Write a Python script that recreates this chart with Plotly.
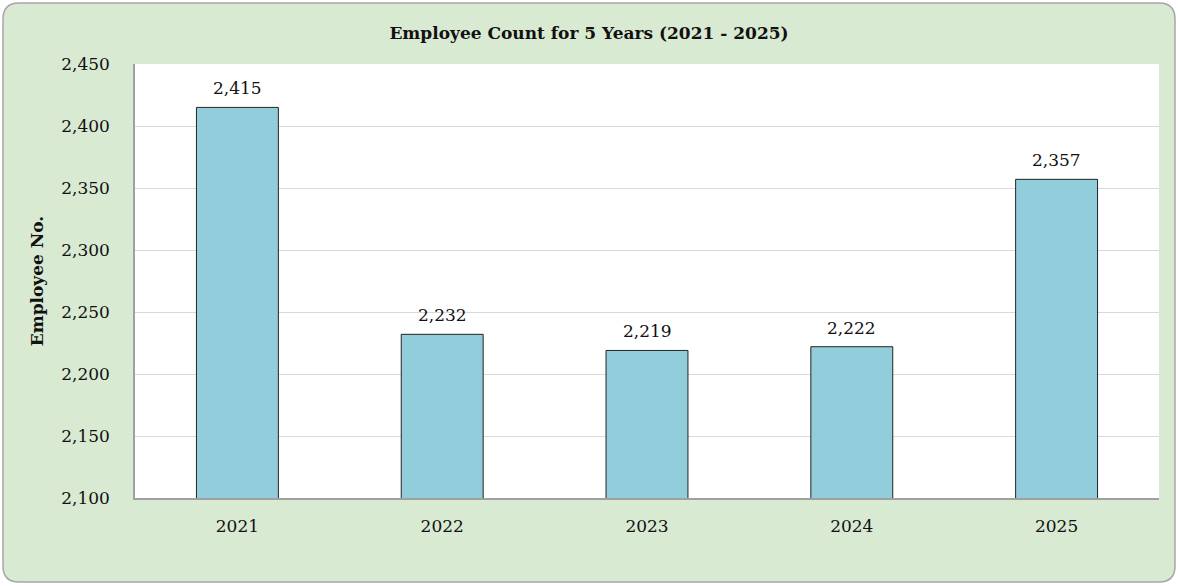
import plotly.graph_objects as go

years = ["2021", "2022", "2023", "2024", "2025"]
employees = [2415, 2232, 2219, 2222, 2357]
y_ticks = [2100, 2150, 2200, 2250, 2300, 2350, 2400, 2450]

W, H = 1178, 586
L, R, T, B = 135, 19, 64, 88
pw, ph = W - L - R, H - T - B

def px_to_paper_x(p):
    return (p - L) / pw

def px_to_paper_y(p):
    return 1 - (p - T) / ph

# rounded rectangle path (page pixels -> paper)
x0, x1, y0, y1, r = 3, 1175, 3, 582, 16
def P(x, y):
    return f"{px_to_paper_x(x):.5f},{px_to_paper_y(y):.5f}"
path = (f"M {P(x0+r, y0)} L {P(x1-r, y0)} Q {P(x1, y0)} {P(x1, y0+r)} "
        f"L {P(x1, y1-r)} Q {P(x1, y1)} {P(x1-r, y1)} "
        f"L {P(x0+r, y1)} Q {P(x0, y1)} {P(x0, y1-r)} "
        f"L {P(x0, y0+r)} Q {P(x0, y0)} {P(x0+r, y0)} Z")

font_family = "DejaVu Serif"
txt = "#111111"

fig = go.Figure(go.Bar(
    x=years, y=employees,
    marker=dict(color="#92cddc", line=dict(color="#222222", width=1)),
    cliponaxis=False,
))

# data labels: category axes place annotations by category index
for i, v in enumerate(employees):
    fig.add_annotation(x=i, y=v, text=f"{v:,}", showarrow=False,
                       yanchor="bottom", yshift=7,
                       font=dict(family=font_family, size=17, color=txt))

fig.update_layout(
    width=W, height=H,
    margin=dict(l=L, r=R, t=T, b=B),
    paper_bgcolor="white",
    plot_bgcolor="white",
    bargap=0.6,
    showlegend=False,
    font=dict(family=font_family, size=17, color=txt),
    title=dict(text="<b>Employee Count for 5 Years (2021 - 2025)</b>",
               x=0.5, xanchor="center", y=1 - 33 / H, yanchor="middle",
               font=dict(family=font_family, size=17, color=txt)),
    shapes=[
        dict(type="path", path=path, xref="paper", yref="paper",
             fillcolor="#d9ead3", line=dict(color="#a6a6a6", width=1.5), layer="below"),
        dict(type="rect", xref="paper", yref="paper", x0=0, x1=1, y0=0, y1=1,
             fillcolor="white", line=dict(width=0), layer="below"),
    ],
)

fig.update_xaxes(
    type="category",
    showline=True, linecolor="#a0a0a0", linewidth=1.5,
    ticks="", ticklabelstandoff=12,
    tickfont=dict(family=font_family, size=17, color=txt),
)
fig.update_yaxes(
    range=[2100, 2450], tickvals=y_ticks, tickformat=",",
    showgrid=True, gridcolor="#d9d9d9", gridwidth=1,
    showline=True, linecolor="#a0a0a0", linewidth=1.5,
    ticks="", ticklabelstandoff=20, zeroline=False,
    tickfont=dict(family=font_family, size=17, color=txt),
    title=dict(text="<b>Employee No.</b>", standoff=13,
               font=dict(family=font_family, size=17, color=txt)),
)

fig.write_html("out.html", config={"displayModeBar": False},
               post_script="document.body.style.margin='0';document.body.style.overflow='hidden';")
